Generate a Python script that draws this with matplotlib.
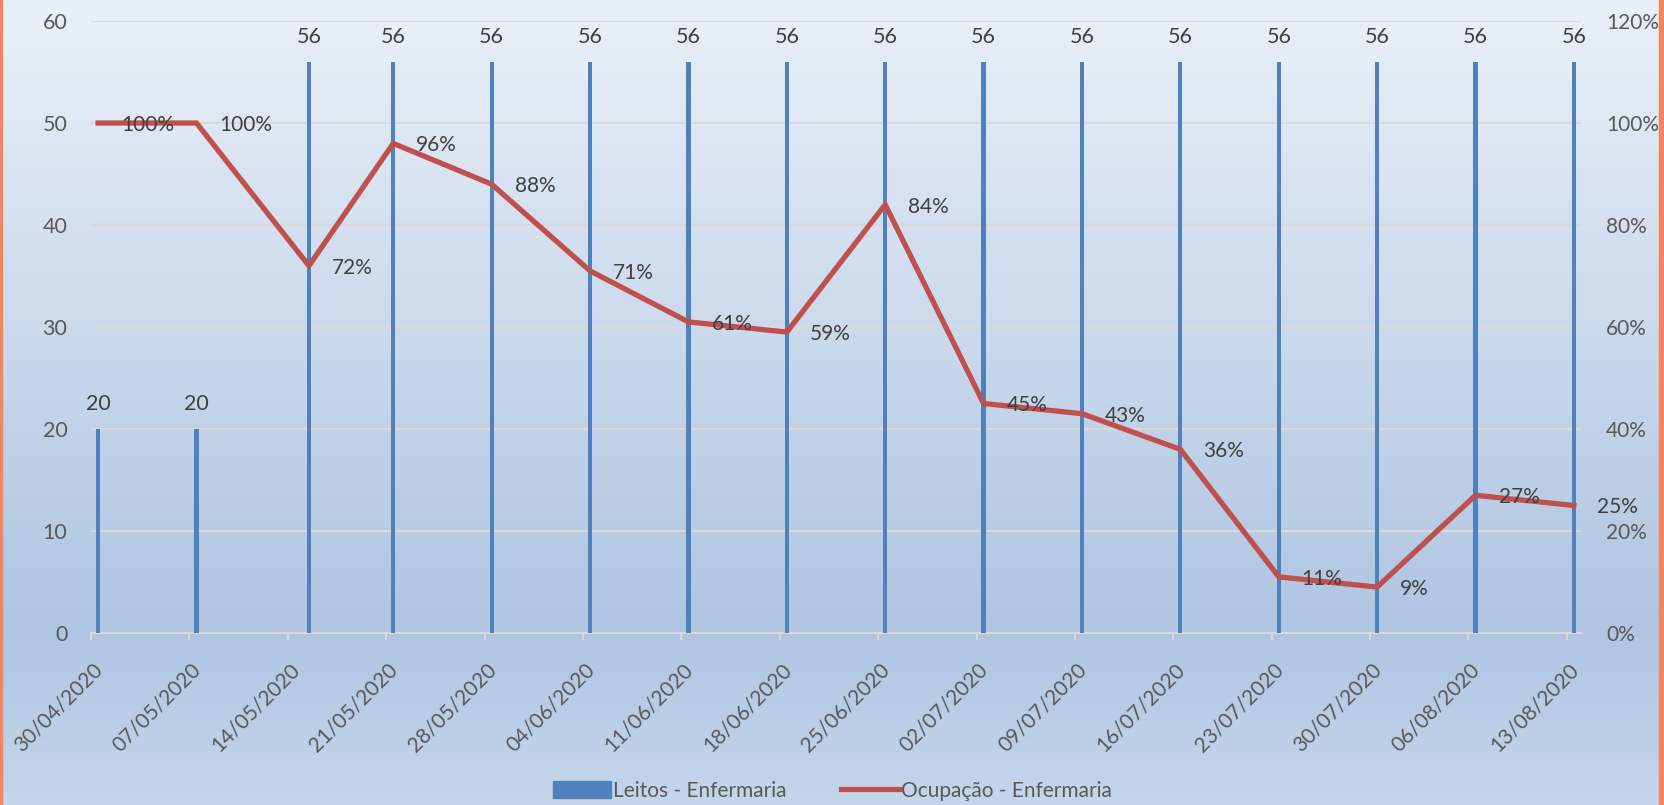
import numpy as np
import pandas as pd
import matplotlib
matplotlib.use('Agg')
import matplotlib.pyplot as plt
from matplotlib.transforms import ScaledTranslation
from matplotlib.colors import LinearSegmentedColormap
from matplotlib.patches import Patch
from matplotlib.lines import Line2D

plt.rcParams['font.family'] = ['Lato', 'DejaVu Sans']

# dados
datas = ["30/04/2020", "07/05/2020", "15/05/2020", "21/05/2020", "28/05/2020", "04/06/2020",
         "11/06/2020", "18/06/2020", "25/06/2020", "02/07/2020", "09/07/2020", "16/07/2020",
         "23/07/2020", "30/07/2020", "06/08/2020", "13/08/2020"]
leitos = [20, 20, 56, 56, 56, 56, 56, 56, 56, 56, 56, 56, 56, 56, 56, 56]
ocupacao = [1.00, 1.00, 0.72, 0.96, 0.88, 0.71, 0.61, 0.59, 0.84, 0.45, 0.43, 0.36, 0.11, 0.09, 0.27, 0.25]
tick_labels = ["30/04/2020", "07/05/2020", "14/05/2020", "21/05/2020", "28/05/2020", "04/06/2020",
               "11/06/2020", "18/06/2020", "25/06/2020", "02/07/2020", "09/07/2020", "16/07/2020",
               "23/07/2020", "30/07/2020", "06/08/2020", "13/08/2020"]

azul = '#4f81bd'
vermelho = '#c0504d'
cinza_txt = '#595959'
cinza_lbl = '#404040'
grade = '#d9d9d9'
fs = 15.5

x = pd.to_datetime(datas, dayfirst=True) + pd.Timedelta(hours=12)
ticks = pd.to_datetime(tick_labels, dayfirst=True)

fig = plt.figure(figsize=(16.65, 8.05), dpi=100)

# fundo em degrade
bg = fig.add_axes([0, 0, 1, 1], zorder=-10)
cmap = LinearSegmentedColormap.from_list('fundo', [(0, '#eaf0f8'), (0.78, '#afc5e1'), (1, '#c4d6ec')])
bg.imshow(np.linspace(0, 1, 256).reshape(-1, 1), aspect='auto', cmap=cmap, extent=[0, 1, 0, 1])
bg.axis('off')
fig.patches.append(plt.Rectangle((0, 0), 0.0012, 1, transform=fig.transFigure, color='#f08560'))
fig.patches.append(plt.Rectangle((0.9965, 0), 0.0025, 1, transform=fig.transFigure, color='#f08560'))

ax = fig.add_axes([0.0547, 0.2137, 0.8948, 0.7602])
ax.set_facecolor('none')
ax.bar(x, leitos, width=0.3, color=azul, zorder=3)
ax.set_ylim(0, 60)
ax.set_yticks(range(0, 61, 10))
ax.set_xlim(ticks[0], ticks[-1] + pd.Timedelta(days=1))
ax.grid(axis='y', color=grade, lw=1.5, zorder=0)
for s in ['top', 'right', 'left']:
    ax.spines[s].set_visible(False)
ax.spines['bottom'].set_color(grade)
ax.spines['bottom'].set_linewidth(1.5)

ax.set_xticks(ticks)
ax.set_xticklabels(tick_labels, rotation=45, ha='right', va='center', rotation_mode='anchor')
ax.tick_params(axis='x', colors=grade, length=5, width=1.5, pad=19, labelcolor=cinza_txt, labelsize=15)
ax.tick_params(axis='y', length=0, pad=17, labelcolor=cinza_txt, labelsize=fs)
off = ScaledTranslation(6 / 72, 0, fig.dpi_scale_trans)
for lbl in ax.get_xticklabels():
    lbl.set_transform(lbl.get_transform() + off)

for xi, v in zip(x, leitos):
    ax.annotate(str(v), (xi, v), xytext=(0, 15), textcoords='offset pixels',
                ha='center', va='bottom', fontsize=fs, color=cinza_lbl)

ax2 = ax.twinx()
ax2.plot(x, ocupacao, color=vermelho, lw=3.8, solid_joinstyle='miter', zorder=4)
ax2.set_ylim(0, 1.2)
ax2.set_yticks(np.arange(0, 1.21, 0.2))
ax2.set_yticklabels([f'{int(round(t * 100))}%' for t in np.arange(0, 1.21, 0.2)])
ax2.tick_params(axis='y', length=0, pad=18, labelcolor=cinza_txt, labelsize=15)
for s in ax2.spines.values():
    s.set_visible(False)

for xi, v in zip(x, ocupacao):
    ax2.annotate(f'{int(round(v * 100))}%', (xi, v), xytext=(23, -2), textcoords='offset pixels',
                 ha='left', va='center', fontsize=15, color=cinza_lbl, zorder=5)

handles = [Patch(color=azul), Line2D([], [], color=vermelho, lw=3.8)]
fig.legend(handles, ['Leitos - Enfermaria', 'Ocupação - Enfermaria'], loc='center',
           bbox_to_anchor=(0.5, 0.018), ncol=2, frameon=False, fontsize=15,
           labelcolor=cinza_txt, handlelength=2.8, handleheight=0.9, handletextpad=0.1, columnspacing=2.6)

fig.savefig('out.png', dpi=100)
